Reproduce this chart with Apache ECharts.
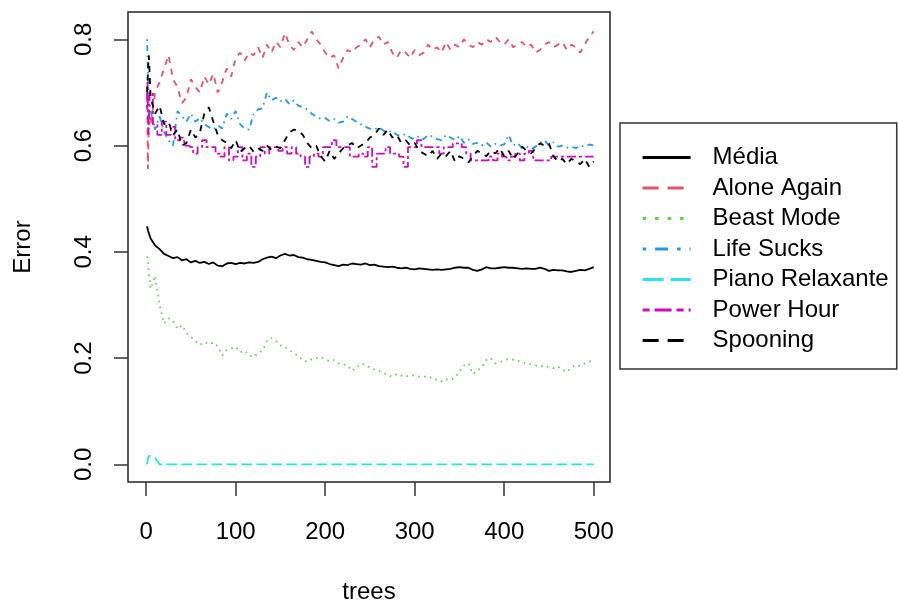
<!DOCTYPE html>
<html>
<head>
<meta charset="utf-8">
<script src="https://cdn.jsdelivr.net/npm/echarts@6/dist/echarts.min.js"></script>
<style>
  html, body { margin: 0; padding: 0; background: #fff; }
  #chart { width: 898px; height: 603px; }
</style>
</head>
<body>
<div id="chart"></div>
<script>
// number of trees at each sampled point
const trees = [1, 2, 3, 5, 10, 15, 20, 25, 30, 35, 40, 45, 50, 55, 60, 65, 70, 75, 80, 85, 90, 95, 100,
  105, 110, 115, 120, 125, 130, 135, 140, 145, 150, 155, 160, 165, 170, 175, 180, 185, 190, 195, 200,
  205, 210, 215, 220, 225, 230, 235, 240, 245, 250, 255, 260, 265, 270, 275, 280, 285, 290, 295, 300,
  305, 310, 315, 320, 325, 330, 335, 340, 345, 350, 355, 360, 365, 370, 375, 380, 385, 390, 395, 400,
  405, 410, 415, 420, 425, 430, 435, 440, 445, 450, 455, 460, 465, 470, 475, 480, 485, 490, 495, 500];

const media = [0.448, 0.440, 0.435, 0.425, 0.412, 0.405, 0.396, 0.392, 0.388, 0.390, 0.384, 0.386, 0.380, 0.383, 0.379, 0.381, 0.377, 0.380, 0.374, 0.373, 0.378, 0.379, 0.377,
  0.379, 0.378, 0.380, 0.379, 0.381, 0.386, 0.389, 0.391, 0.388, 0.393, 0.396, 0.393, 0.394, 0.390, 0.389, 0.386, 0.385, 0.383, 0.381, 0.380,
  0.377, 0.375, 0.373, 0.376, 0.375, 0.378, 0.377, 0.376, 0.378, 0.375, 0.376, 0.373, 0.372, 0.371, 0.372, 0.370, 0.369, 0.370, 0.368, 0.367,
  0.369, 0.368, 0.367, 0.366, 0.367, 0.366, 0.367, 0.368, 0.370, 0.371, 0.370, 0.370, 0.366, 0.364, 0.367, 0.371, 0.369, 0.369, 0.370, 0.371,
  0.370, 0.370, 0.369, 0.368, 0.369, 0.368, 0.368, 0.370, 0.368, 0.364, 0.366, 0.365, 0.365, 0.363, 0.362, 0.364, 0.366, 0.365, 0.368, 0.371];

const aloneAgain = [0.700, 0.556, 0.660, 0.640, 0.700, 0.720, 0.745, 0.770, 0.725, 0.710, 0.680, 0.690, 0.725, 0.710, 0.700, 0.730, 0.715, 0.735, 0.700, 0.720, 0.745, 0.730, 0.765,
  0.775, 0.760, 0.775, 0.770, 0.785, 0.765, 0.790, 0.775, 0.795, 0.785, 0.812, 0.790, 0.780, 0.795, 0.785, 0.800, 0.815, 0.800, 0.790, 0.775,
  0.765, 0.770, 0.745, 0.765, 0.780, 0.775, 0.785, 0.790, 0.800, 0.785, 0.800, 0.805, 0.790, 0.795, 0.775, 0.765, 0.780, 0.775, 0.765, 0.780,
  0.770, 0.775, 0.790, 0.780, 0.785, 0.775, 0.795, 0.780, 0.790, 0.785, 0.800, 0.790, 0.785, 0.795, 0.790, 0.800, 0.795, 0.805, 0.795, 0.790,
  0.800, 0.785, 0.790, 0.795, 0.785, 0.790, 0.775, 0.780, 0.790, 0.795, 0.785, 0.790, 0.795, 0.780, 0.790, 0.785, 0.775, 0.790, 0.805, 0.815];

const beastMode = [0.391, 0.385, 0.360, 0.330, 0.355, 0.300, 0.265, 0.275, 0.270, 0.255, 0.262, 0.247, 0.240, 0.232, 0.225, 0.230, 0.226, 0.229, 0.222, 0.205, 0.215, 0.218, 0.221,
  0.211, 0.214, 0.205, 0.202, 0.209, 0.214, 0.232, 0.238, 0.232, 0.224, 0.221, 0.215, 0.209, 0.204, 0.196, 0.193, 0.198, 0.200, 0.202, 0.198,
  0.194, 0.196, 0.190, 0.188, 0.186, 0.176, 0.182, 0.190, 0.187, 0.182, 0.178, 0.176, 0.172, 0.168, 0.165, 0.170, 0.167, 0.165, 0.168, 0.167,
  0.165, 0.166, 0.163, 0.164, 0.158, 0.156, 0.160, 0.159, 0.163, 0.175, 0.186, 0.190, 0.170, 0.176, 0.183, 0.196, 0.200, 0.190, 0.192, 0.196,
  0.198, 0.197, 0.195, 0.192, 0.190, 0.188, 0.186, 0.184, 0.186, 0.183, 0.181, 0.184, 0.178, 0.174, 0.182, 0.187, 0.185, 0.190, 0.193, 0.200];

const lifeSucks = [0.800, 0.740, 0.690, 0.665, 0.630, 0.655, 0.625, 0.610, 0.600, 0.665, 0.655, 0.645, 0.660, 0.645, 0.652, 0.640, 0.635, 0.630, 0.638, 0.632, 0.660, 0.650, 0.665,
  0.640, 0.632, 0.630, 0.660, 0.668, 0.670, 0.700, 0.685, 0.690, 0.683, 0.688, 0.678, 0.685, 0.675, 0.672, 0.668, 0.660, 0.655, 0.650, 0.652,
  0.646, 0.650, 0.643, 0.645, 0.655, 0.650, 0.645, 0.640, 0.635, 0.632, 0.630, 0.635, 0.628, 0.625, 0.628, 0.620, 0.618, 0.622, 0.615, 0.612,
  0.618, 0.612, 0.620, 0.617, 0.612, 0.610, 0.620, 0.615, 0.610, 0.618, 0.605, 0.612, 0.603, 0.605, 0.600, 0.606, 0.598, 0.603, 0.600, 0.602,
  0.620, 0.600, 0.605, 0.595, 0.598, 0.593, 0.598, 0.605, 0.610, 0.600, 0.606, 0.598, 0.600, 0.596, 0.598, 0.595, 0.600, 0.598, 0.602, 0.600];

const pianoRelaxante = [0, 0.011, 0.016, 0.015, 0.012, 0, 0, 0, 0, 0, 0, 0, 0, 0, 0, 0, 0, 0, 0, 0, 0, 0, 0,
  0, 0, 0, 0, 0, 0, 0, 0, 0, 0, 0, 0, 0, 0, 0, 0, 0, 0, 0, 0,
  0, 0, 0, 0, 0, 0, 0, 0, 0, 0, 0, 0, 0, 0, 0, 0, 0, 0, 0, 0,
  0, 0, 0, 0, 0, 0, 0, 0, 0, 0, 0, 0, 0, 0, 0, 0, 0, 0, 0, 0,
  0, 0, 0, 0, 0, 0, 0, 0, 0, 0, 0, 0, 0, 0, 0, 0, 0, 0, 0, 0];

const powerHour = [0.670, 0.720, 0.620, 0.700, 0.640, 0.620, 0.645, 0.620, 0.635, 0.610, 0.615, 0.600, 0.597, 0.585, 0.597, 0.610, 0.597, 0.597, 0.585, 0.579, 0.597, 0.572, 0.579,
  0.597, 0.572, 0.585, 0.560, 0.579, 0.597, 0.585, 0.597, 0.597, 0.590, 0.597, 0.585, 0.597, 0.585, 0.579, 0.560, 0.579, 0.585, 0.579, 0.597,
  0.597, 0.610, 0.597, 0.597, 0.597, 0.579, 0.579, 0.585, 0.579, 0.597, 0.560, 0.585, 0.585, 0.597, 0.585, 0.585, 0.579, 0.560, 0.597, 0.597,
  0.610, 0.597, 0.597, 0.597, 0.597, 0.585, 0.597, 0.597, 0.604, 0.604, 0.597, 0.585, 0.572, 0.572, 0.572, 0.572, 0.579, 0.572, 0.585, 0.579,
  0.572, 0.579, 0.585, 0.572, 0.585, 0.590, 0.572, 0.572, 0.572, 0.572, 0.579, 0.579, 0.579, 0.579, 0.579, 0.579, 0.579, 0.579, 0.579, 0.579];

const spooning = [0.700, 0.740, 0.770, 0.690, 0.660, 0.675, 0.640, 0.645, 0.620, 0.630, 0.600, 0.605, 0.630, 0.615, 0.625, 0.660, 0.672, 0.645, 0.620, 0.610, 0.605, 0.595, 0.610,
  0.588, 0.595, 0.600, 0.588, 0.595, 0.590, 0.600, 0.592, 0.598, 0.595, 0.610, 0.625, 0.630, 0.628, 0.620, 0.605, 0.595, 0.600, 0.580, 0.570,
  0.590, 0.575, 0.585, 0.595, 0.600, 0.605, 0.595, 0.600, 0.605, 0.615, 0.620, 0.632, 0.620, 0.630, 0.615, 0.620, 0.605, 0.610, 0.600, 0.605,
  0.590, 0.585, 0.580, 0.590, 0.575, 0.585, 0.580, 0.590, 0.570, 0.580, 0.575, 0.568, 0.580, 0.590, 0.585, 0.580, 0.590, 0.585, 0.595, 0.580,
  0.590, 0.575, 0.585, 0.598, 0.590, 0.585, 0.595, 0.604, 0.600, 0.604, 0.580, 0.570, 0.575, 0.565, 0.575, 0.570, 0.565, 0.575, 0.560, 0.570];

const xTicks = [0, 100, 200, 300, 400, 500];
const yTicks = [0, 0.2, 0.4, 0.6, 0.8];

const FONT = '"Liberation Sans", Arial, sans-serif';

// name, values, colour, dash in plot, dash in legend
const lines = [
  ['Média', media, '#000000', 'solid', 'solid'],
  ['Alone Again', aloneAgain, '#DF536B', [6, 6], [16, 9]],
  ['Beast Mode', beastMode, '#61D04F', [1.6, 4.4], [3.5, 9]],
  ['Life Sucks', lifeSucks, '#2297E6', [1.6, 4.4, 6, 4.4], [3.5, 9, 13, 9]],
  ['Piano Relaxante', pianoRelaxante, '#28E2E5', [10.5, 4.5], [21, 7]],
  ['Power Hour', powerHour, '#CD0BBC', [3, 3, 9, 3], [7, 5, 17, 5]],
  ['Spooning', spooning, '#000000', [6, 6], [16, 9]]
];

const chart = echarts.init(document.getElementById('chart'), null, { renderer: 'canvas' });

chart.setOption({
  animation: false,
  backgroundColor: '#ffffff',
  textStyle: { fontFamily: FONT },
  grid: {
    left: 128, top: 12, width: 482, height: 470,
    outerBoundsMode: 'none',
    show: true, borderColor: '#222', borderWidth: 1.5, backgroundColor: 'transparent'
  },
  legend: {
    orient: 'vertical',
    left: 620, top: 123,
    padding: [19.5, 8, 13.5, 21],
    itemWidth: 48, itemHeight: 14, itemGap: 0.5,
    borderColor: '#333', borderWidth: 1.5,
    selectedMode: false,
    textStyle: { fontFamily: FONT, fontSize: 24, color: '#000', lineHeight: 30, padding: [0, 0, 0, 17] },
    data: lines.map(([name, , color, , legendDash]) => ({
      name,
      itemStyle: { opacity: 0 },
      lineStyle: { color, width: 3.2, type: legendDash }
    }))
  },
  xAxis: {
    type: 'value', min: -20.3, max: 518.2,
    name: 'trees', nameLocation: 'middle', nameGap: 98,
    nameTextStyle: { fontFamily: FONT, fontSize: 24, color: '#000' },
    axisLine: { show: false, onZero: false },
    splitLine: { show: false },
    axisTick: { show: true, customValues: xTicks, length: 14, lineStyle: { color: '#333', width: 1.5 } },
    axisLabel: { customValues: xTicks, margin: 38, fontFamily: FONT, fontSize: 24, color: '#000' }
  },
  yAxis: {
    type: 'value', min: -0.0333, max: 0.8514,
    name: 'Error', nameLocation: 'middle', nameGap: 93, nameRotate: 90,
    nameTextStyle: { fontFamily: FONT, fontSize: 24, color: '#000' },
    axisLine: { show: false, onZero: false },
    splitLine: { show: false },
    axisTick: { show: true, customValues: yTicks, length: 14, lineStyle: { color: '#333', width: 1.5 } },
    axisLabel: {
      customValues: yTicks, rotate: 90, margin: 32,
      fontFamily: FONT, fontSize: 24, color: '#000',
      formatter: (v) => v.toFixed(1)
    }
  },
  series: lines.map(([name, values, color, dash]) => ({
    name,
    type: 'line',
    data: trees.map((t, i) => [t, values[i]]),
    step: name === 'Power Hour' ? 'middle' : false,
    showSymbol: false,
    symbol: 'none',
    clip: true,
    lineStyle: { color, width: 1.8, type: dash },
    itemStyle: { color },
    emphasis: { disabled: true }
  }))
});
</script>
</body>
</html>
